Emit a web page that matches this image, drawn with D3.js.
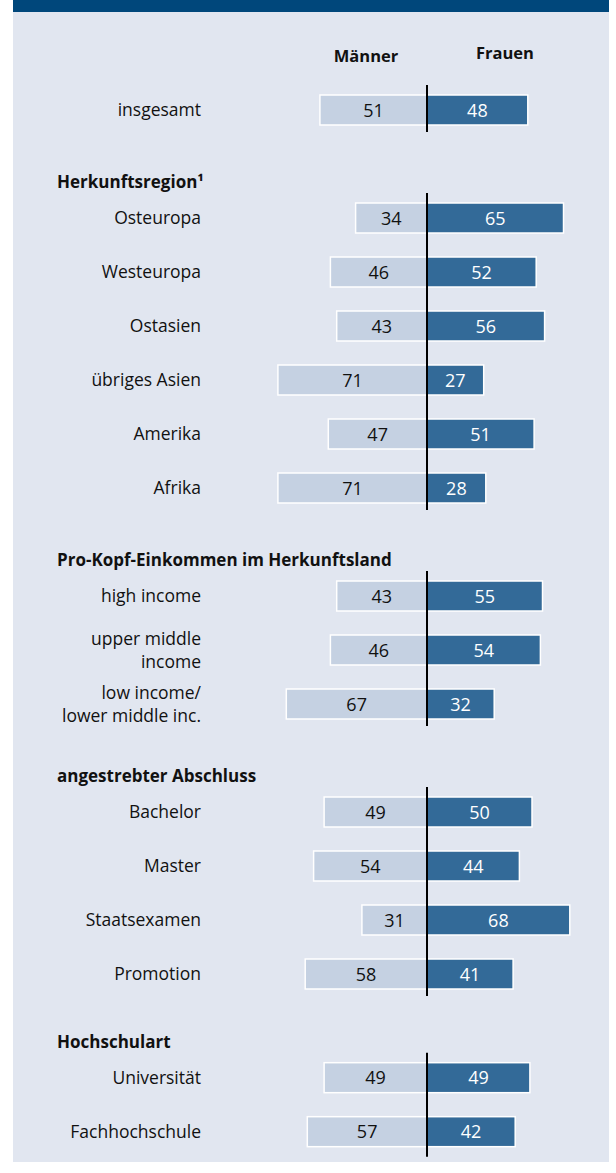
<!DOCTYPE html>
<html>
<head>
<meta charset="utf-8">
<script src="https://cdn.jsdelivr.net/npm/d3@7"></script>
<style>
  body { margin: 0; background: #fff; }
  svg text { font-family: "Open Sans", "Noto Sans", sans-serif; }
</style>
</head>
<body>
<svg id="chart"></svg>
<script>
// data
const groups = ['', 'Herkunftsregion¹', 'Pro-Kopf-Einkommen im Herkunftsland', 'angestrebter Abschluss', 'Hochschulart'];
const categories = [
    ['insgesamt'],
    ['Osteuropa'], ['Westeuropa'], ['Ostasien'], ['übriges Asien'], ['Amerika'], ['Afrika'],
    ['high income'], ['upper middle', 'income'], ['low income/', 'lower middle inc.'],
    ['Bachelor'], ['Master'], ['Staatsexamen'], ['Promotion'],
    ['Universität'], ['Fachhochschule']
];
const groupOf = [0, 1, 1, 1, 1, 1, 1, 2, 2, 2, 3, 3, 3, 3, 4, 4];
const maenner = [51, 34, 46, 43, 71, 47, 71, 43, 46, 67, 49, 54, 31, 58, 49, 57];
const frauen  = [48, 65, 52, 56, 27, 51, 28, 55, 54, 32, 50, 44, 68, 41, 49, 42];
const seriesNames = ['Männer', 'Frauen'];

const width = 616;
const height = 1173;
const center = 427;
const rowStep = 54;

const svg = d3.select('#chart')
    .attr('width', width)
    .attr('height', height);

// slot index: each new group leaves one empty slot for its heading
// (the last group sits a little tighter in the original)
let slots = [];
let s = -1;
groupOf.forEach((g, i) => {
    if (i > 0 && g !== groupOf[i - 1]) s += (g === 4) ? 1.92 : 2;
    else s += 1;
    slots.push(s);
});

const y = d3.scaleLinear().domain([0, 1]).range([110, 110 + rowStep]);
const xM = d3.scaleLinear().domain([0, 100]).range([center, center - 210]);
const xF = d3.scaleLinear().domain([0, 100]).range([center, center + 210]);
const barH = 30;

// panel
svg.append('rect')
    .attr('x', 13).attr('y', 0)
    .attr('width', 596).attr('height', 1162)
    .attr('fill', '#e1e6f0');
svg.append('rect')
    .attr('x', 13).attr('y', 0)
    .attr('width', 596).attr('height', 12)
    .attr('fill', '#00477b');

// column headers
svg.selectAll('.colhead')
    .data(seriesNames)
    .enter()
    .append('text')
        .attr('x', (d, i) => i === 0 ? 366 : 505)
        .attr('y', (d, i) => i === 0 ? 62 : 59)
        .attr('text-anchor', 'middle')
        .attr('font-size', 16.5)
        .attr('font-weight', 'bold')
        .attr('fill', '#111')
        .text(d => d);

// group headings
groups.forEach((g, gi) => {
    if (!g) return;
    let first = groupOf.indexOf(gi);
    svg.append('text')
        .attr('x', 57)
        .attr('y', y(slots[first]) - 30)
        .attr('font-size', 17)
        .attr('font-weight', 'bold')
        .attr('fill', '#111')
        .text(g);
});

// centre lines, one per group
groups.forEach((g, gi) => {
    let idx = groupOf.map((d, i) => d === gi ? i : -1).filter(i => i >= 0);
    let top = y(slots[idx[0]]) - barH / 2 - 10;
    let bottom = y(slots[idx[idx.length - 1]]) + barH / 2 + (gi === 4 ? 10 : 7);
    svg.append('line')
        .classed('centre', true)
        .attr('x1', center).attr('x2', center)
        .attr('y1', top).attr('y2', bottom)
        .attr('stroke', '#000')
        .attr('stroke-width', 2);
});

const rows = svg.selectAll('.row')
    .data(categories)
    .enter()
    .append('g')
        .classed('row', true)
        .attr('transform', (d, i) => `translate(0,${y(slots[i])})`);

// category labels
rows.append('text')
    .attr('text-anchor', 'end')
    .attr('font-size', 17.5)
    .attr('fill', '#111')
    .selectAll('tspan')
    .data(d => d.map((t, k) => ({ t, k, n: d.length })))
    .enter()
    .append('tspan')
        .attr('x', 201)
        .attr('y', d => 6 + (d.k - (d.n - 1) / 2) * 23)
        .text(d => d.t);

// bars
rows.append('rect')
    .attr('x', (d, i) => xM(maenner[i]))
    .attr('y', -barH / 2)
    .attr('width', (d, i) => center - xM(maenner[i]))
    .attr('height', barH)
    .attr('fill', '#c5d1e2')
    .attr('stroke', '#fff')
    .attr('stroke-width', 1.5);
rows.append('rect')
    .attr('x', center)
    .attr('y', -barH / 2)
    .attr('width', (d, i) => xF(frauen[i]) - center)
    .attr('height', barH)
    .attr('fill', '#336a98')
    .attr('stroke', '#fff')
    .attr('stroke-width', 1.5);

// values
rows.append('text')
    .attr('x', (d, i) => (xM(maenner[i]) + center) / 2)
    .attr('y', 6.5)
    .attr('text-anchor', 'middle')
    .attr('font-size', 18)
    .attr('fill', '#111')
    .text((d, i) => maenner[i]);
rows.append('text')
    .attr('x', (d, i) => (xF(frauen[i]) + center) / 2)
    .attr('y', 6.5)
    .attr('text-anchor', 'middle')
    .attr('font-size', 18)
    .attr('fill', '#fff')
    .text((d, i) => frauen[i]);

// centre lines on top of bars
svg.selectAll('line.centre').raise();
</script>
</body>
</html>
